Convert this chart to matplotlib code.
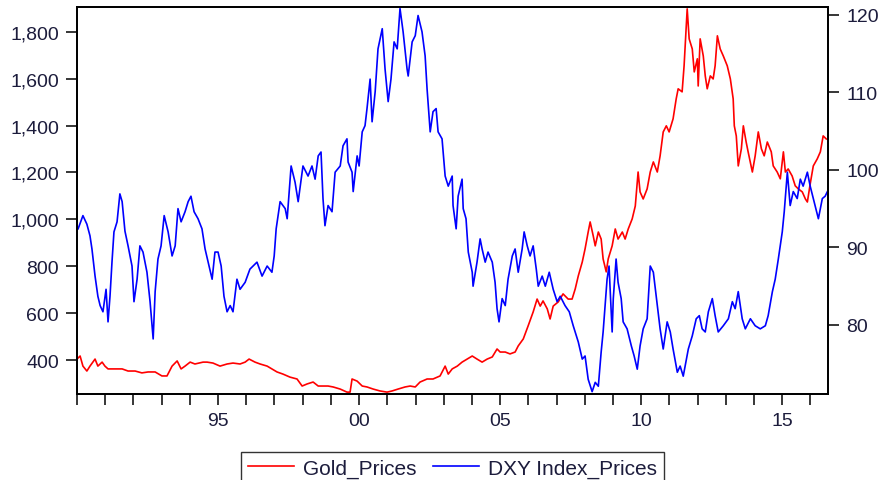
import matplotlib.pyplot as plt
from matplotlib.ticker import FuncFormatter, MultipleLocator

# gold price (USD/oz)
gold_years = [1990.00, 1990.11, 1990.21, 1990.35, 1990.46, 1990.64, 1990.74, 1990.89, 1990.99, 1991.10,
              1991.35, 1991.60, 1991.81, 1992.06, 1992.30, 1992.52, 1992.77, 1993.01, 1993.19, 1993.37,
              1993.55, 1993.69, 1993.83, 1994.01, 1994.18, 1994.47, 1994.61, 1994.82, 1995.07, 1995.32,
              1995.53, 1995.78, 1995.96, 1996.10, 1996.31, 1996.49, 1996.74, 1996.91, 1997.09, 1997.30,
              1997.55, 1997.80, 1997.98, 1998.16, 1998.37, 1998.55, 1998.72, 1998.90, 1999.08, 1999.33,
              1999.57, 1999.68, 1999.75, 1999.93, 2000.11, 2000.28, 2000.50, 2000.74, 2000.99, 2001.17,
              2001.38, 2001.63, 2001.81, 2001.99, 2002.16, 2002.41, 2002.62, 2002.87, 2003.05, 2003.16,
              2003.30, 2003.48, 2003.65, 2003.83, 2004.01, 2004.18, 2004.36, 2004.54, 2004.72, 2004.89,
              2005.00, 2005.18, 2005.35, 2005.53, 2005.64, 2005.82, 2005.99, 2006.17, 2006.31, 2006.42,
              2006.52, 2006.67, 2006.77, 2006.88, 2007.06, 2007.23, 2007.41, 2007.55, 2007.66, 2007.77,
              2007.91, 2008.01, 2008.12, 2008.19, 2008.30, 2008.37, 2008.48, 2008.58, 2008.65, 2008.76,
              2008.83, 2008.97, 2009.08, 2009.18, 2009.33, 2009.43, 2009.54, 2009.68, 2009.79, 2009.89,
              2009.96, 2010.07, 2010.21, 2010.32, 2010.43, 2010.57, 2010.67, 2010.78, 2010.89, 2010.99,
              2011.13, 2011.24, 2011.31, 2011.45, 2011.52, 2011.60, 2011.63, 2011.70, 2011.81, 2011.88,
              2011.99, 2012.02, 2012.09, 2012.20, 2012.27, 2012.34, 2012.45, 2012.55, 2012.62, 2012.70,
              2012.80, 2012.91, 2013.05, 2013.16, 2013.26, 2013.30, 2013.37, 2013.44, 2013.55, 2013.62,
              2013.72, 2013.79, 2013.94, 2014.04, 2014.15, 2014.26, 2014.36, 2014.47, 2014.61, 2014.68,
              2014.82, 2014.93, 2015.04, 2015.11, 2015.21, 2015.35, 2015.46, 2015.57, 2015.71, 2015.82,
              2015.89, 2015.99, 2016.10, 2016.24, 2016.35, 2016.45, 2016.56]
gold = [404, 417, 374, 353, 374, 404, 374, 391, 374, 362,
        362, 362, 353, 353, 345, 349, 349, 332, 332, 374,
        396, 362, 374, 391, 383, 391, 391, 387, 374, 383,
        387, 383, 391, 404, 391, 383, 374, 362, 349, 340,
        327, 319, 289, 298, 306, 289, 289, 289, 285, 276,
        263, 263, 319, 310, 289, 285, 276, 268, 263, 268,
        276, 285, 289, 285, 306, 319, 319, 332, 374, 340,
        362, 374, 391, 404, 417, 404, 391, 404, 413, 447,
        434, 434, 426, 434, 460, 490, 545, 605, 660, 630,
        652, 618, 575, 630, 648, 682, 660, 660, 703, 759,
        818, 874, 946, 989, 929, 887, 946, 916, 831, 776,
        831, 887, 959, 916, 946, 916, 959, 1002, 1057, 1202,
        1117, 1087, 1130, 1202, 1245, 1202, 1271, 1373, 1399, 1373,
        1429, 1514, 1557, 1544, 1655, 1826, 1898, 1770, 1727, 1629,
        1685, 1569, 1770, 1697, 1612, 1557, 1612, 1599, 1655, 1783,
        1727, 1697, 1655, 1599, 1514, 1399, 1356, 1228, 1301, 1399,
        1330, 1288, 1202, 1271, 1373, 1301, 1271, 1330, 1288, 1228,
        1202, 1173, 1288, 1202, 1215, 1185, 1143, 1130, 1117, 1087,
        1074, 1151, 1228, 1258, 1288, 1356, 1343]

# US dollar index
dxy_years = [1990.04, 1990.21, 1990.35, 1990.46, 1990.53, 1990.64, 1990.74, 1990.82, 1990.92, 1991.03,
             1991.10, 1991.17, 1991.24, 1991.31, 1991.42, 1991.52, 1991.60, 1991.70, 1991.81, 1991.95,
             1992.02, 1992.13, 1992.23, 1992.34, 1992.48, 1992.59, 1992.70, 1992.77, 1992.87, 1992.98,
             1993.09, 1993.23, 1993.37, 1993.48, 1993.58, 1993.69, 1993.83, 1993.94, 1994.04, 1994.15,
             1994.29, 1994.43, 1994.54, 1994.65, 1994.79, 1994.89, 1995.00, 1995.11, 1995.21, 1995.32,
             1995.43, 1995.53, 1995.67, 1995.78, 1995.96, 1996.13, 1996.38, 1996.56, 1996.74, 1996.91,
             1996.99, 1997.06, 1997.20, 1997.38, 1997.45, 1997.59, 1997.73, 1997.84, 1998.01, 1998.19,
             1998.33, 1998.44, 1998.55, 1998.65, 1998.72, 1998.79, 1998.90, 1999.04, 1999.15, 1999.33,
             1999.43, 1999.57, 1999.61, 1999.75, 1999.79, 1999.93, 2000.00, 2000.11, 2000.21, 2000.28,
             2000.39, 2000.46, 2000.57, 2000.67, 2000.82, 2000.92, 2001.03, 2001.13, 2001.24, 2001.35,
             2001.45, 2001.56, 2001.70, 2001.74, 2001.88, 2001.99, 2002.09, 2002.23, 2002.34, 2002.41,
             2002.52, 2002.62, 2002.73, 2002.80, 2002.94, 2003.05, 2003.16, 2003.30, 2003.33, 2003.44,
             2003.51, 2003.65, 2003.69, 2003.79, 2003.87, 2004.01, 2004.04, 2004.18, 2004.29, 2004.36,
             2004.47, 2004.57, 2004.72, 2004.82, 2004.89, 2004.96, 2005.07, 2005.18, 2005.28, 2005.43,
             2005.53, 2005.64, 2005.78, 2005.85, 2005.96, 2006.06, 2006.17, 2006.28, 2006.35, 2006.49,
             2006.60, 2006.74, 2006.88, 2007.02, 2007.13, 2007.30, 2007.45, 2007.59, 2007.77, 2007.91,
             2008.01, 2008.12, 2008.26, 2008.37, 2008.48, 2008.58, 2008.65, 2008.72, 2008.79, 2008.86,
             2008.97, 2009.01, 2009.11, 2009.18, 2009.29, 2009.36, 2009.50, 2009.65, 2009.75, 2009.86,
             2009.96, 2010.07, 2010.21, 2010.32, 2010.43, 2010.57, 2010.67, 2010.78, 2010.92, 2011.03,
             2011.13, 2011.28, 2011.38, 2011.49, 2011.67, 2011.81, 2011.95, 2012.06, 2012.16, 2012.27,
             2012.38, 2012.52, 2012.62, 2012.73, 2012.91, 2013.09, 2013.23, 2013.33, 2013.44, 2013.58,
             2013.69, 2013.87, 2014.04, 2014.22, 2014.40, 2014.50, 2014.65, 2014.75, 2014.86, 2015.00,
             2015.07, 2015.18, 2015.28, 2015.39, 2015.53, 2015.64, 2015.74, 2015.89, 2015.99, 2016.10,
             2016.28, 2016.42, 2016.52, 2016.60]
dxy = [92.4, 94.1, 93.0, 91.5, 89.8, 86.3, 83.7, 82.5, 81.7, 84.6,
       80.4, 83.7, 88.1, 92.0, 93.3, 96.9, 95.9, 92.1, 90.2, 87.6,
       83.0, 85.9, 90.2, 89.4, 86.8, 83.0, 78.2, 84.3, 88.5, 90.2,
       94.1, 92.0, 88.9, 90.2, 95.0, 93.3, 94.6, 95.9, 96.6, 94.6,
       93.7, 92.4, 89.8, 88.1, 85.9, 89.4, 89.4, 87.6, 83.7, 81.7,
       82.5, 81.7, 85.9, 84.6, 85.5, 87.2, 88.1, 86.3, 87.6, 86.8,
       88.9, 92.4, 95.9, 95.0, 93.7, 100.5, 98.4, 95.9, 100.5, 99.2,
       100.5, 98.8, 101.8, 102.3, 96.3, 92.8, 95.4, 94.6, 99.7, 100.5,
       103.1, 104.0, 101.0, 99.7, 97.2, 101.8, 100.5, 104.9, 105.7, 107.9,
       111.7, 106.2, 110.1, 115.6, 118.2, 113.0, 108.8, 111.7, 116.5, 115.6,
       120.8, 117.8, 113.0, 112.1, 116.5, 117.3, 119.9, 117.8, 114.7, 110.4,
       104.9, 107.5, 107.9, 104.9, 104.0, 99.2, 97.9, 99.2, 95.4, 92.4,
       96.6, 98.8, 95.0, 93.7, 89.4, 86.8, 85.0, 88.1, 91.1, 89.8,
       88.1, 89.4, 88.1, 85.5, 82.1, 80.4, 83.4, 82.5, 85.9, 88.9,
       89.8, 86.8, 89.8, 92.0, 90.2, 88.9, 90.2, 87.2, 85.0, 86.3,
       85.0, 86.8, 84.6, 83.0, 83.7, 82.5, 81.7, 79.9, 77.8, 75.6,
       76.0, 73.0, 71.4, 72.6, 72.1, 76.5, 79.1, 82.5, 85.9, 87.6,
       79.1, 83.4, 88.5, 85.5, 83.4, 80.4, 79.5, 77.3, 76.0, 74.3,
       77.3, 79.5, 80.8, 87.6, 86.8, 82.5, 79.5, 76.9, 80.4, 79.1,
       76.9, 73.9, 74.7, 73.4, 76.9, 78.6, 80.8, 81.2, 79.5, 79.1,
       81.7, 83.4, 81.2, 79.1, 79.9, 80.8, 83.0, 82.1, 84.3, 80.8,
       79.5, 80.8, 79.9, 79.5, 79.9, 81.2, 84.3, 85.9, 88.5, 92.0,
       94.6, 99.7, 95.4, 97.2, 96.3, 98.8, 97.9, 99.7, 97.9, 96.3,
       93.7, 96.3, 96.6, 97.2]

x_ticks = [1995, 2000, 2005, 2010, 2015]
x_labels = ["95", "00", "05", "10", "15"]

plt.rcParams['font.family'] = ['Liberation Sans', 'DejaVu Sans']
txt = '#1c1c3c'

fig = plt.figure(figsize=(8.81, 4.81), dpi=100)
ax = fig.add_axes([0.0874, 0.1788, 0.8524, 0.8046])
ax2 = ax.twinx()

l1, = ax.plot(gold_years, gold, color='red', lw=1.2, label='Gold_Prices')
l2, = ax2.plot(dxy_years, dxy, color='blue', lw=1.2, label='DXY Index_Prices')

ax.set_xlim(1990.0, 2016.62)
ax.set_ylim(255, 1906)
ax2.set_ylim(71.1, 121.0)

ax.set_xticks(x_ticks)
ax.set_xticklabels(x_labels)
ax.xaxis.set_minor_locator(MultipleLocator(1))
ax.set_yticks([400, 600, 800, 1000, 1200, 1400, 1600, 1800])
ax.yaxis.set_major_formatter(FuncFormatter(lambda v, p: f"{int(v):,}"))
ax2.set_yticks([80, 90, 100, 110, 120])

for a in (ax, ax2):
    a.tick_params(axis='both', which='both', direction='out', length=8, width=1.1,
                  labelsize=14, colors='black', labelcolor=txt, pad=5)
    for s in a.spines.values():
        s.set_linewidth(1.3)
        s.set_color('black')
ax.tick_params(axis='x', which='minor', length=8)

fig.legend(handles=[l1, l2], loc='upper center', bbox_to_anchor=(0.5136, 0.058),
           ncol=2, frameon=True, fancybox=False, edgecolor='black', fontsize=15,
           handlelength=2.2, handletextpad=0.45, columnspacing=0.8,
           borderpad=0.3, borderaxespad=0, labelcolor=txt)

fig.savefig('out.png', dpi=100)
